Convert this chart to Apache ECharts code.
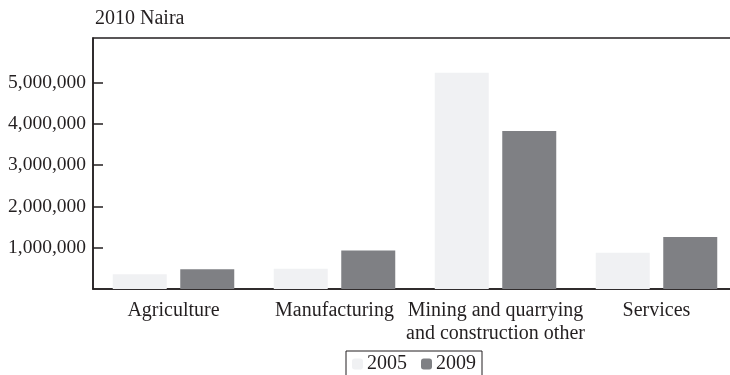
<!DOCTYPE html>
<html>
<head>
<meta charset="utf-8">
<script src="https://cdn.jsdelivr.net/npm/echarts@6/dist/echarts.min.js"></script>
<style>
  html, body { margin: 0; padding: 0; background: #fff; }
  #chart { width: 730px; height: 375px; }
</style>
</head>
<body>
<div id="chart"></div>
<script>
// Sector output, 2010 Naira
const categories = ['Agriculture', 'Manufacturing', 'Mining and quarrying\nand construction other', 'Services'];
const values2005 = [355000, 490000, 5240000, 880000];
const values2009 = [477000, 930000, 3830000, 1260000];
const yTicks = [1000000, 2000000, 3000000, 4000000, 5000000];

const serif = '"Liberation Serif", "DejaVu Serif", serif';
const ink = '#231f20';

const chart = echarts.init(document.getElementById('chart'), null, { renderer: 'canvas' });
chart.setOption({
  animation: false,
  backgroundColor: '#ffffff',
  textStyle: { fontFamily: serif, color: ink },
  title: {
    text: '2010 Naira',
    left: 90,
    top: 4,
    textStyle: { fontFamily: serif, fontSize: 20, fontWeight: 'normal', color: ink }
  },
  legend: {
    top: 351,
    left: 346,
    data: ['2005', '2009'],
    itemWidth: 11,
    itemHeight: 11,
    itemGap: 14,
    padding: [3, 6, 8, 6],
    borderColor: ink,
    borderWidth: 1,
    textStyle: { fontFamily: serif, fontSize: 20, color: ink, padding: [0, 0, 0, -1] }
  },
  grid: {
    left: 93,
    width: 644,
    top: 38,
    height: 251,
    outerBoundsMode: 'none',
    show: true,
    borderColor: ink,
    borderWidth: 1.5,
    containLabel: false
  },
  xAxis: {
    type: 'category',
    data: categories,
    axisLine: { show: true, lineStyle: { color: ink, width: 1.5 } },
    axisTick: { show: false },
    axisLabel: {
      interval: 0,
      margin: 10,
      fontFamily: serif,
      fontSize: 20,
      lineHeight: 23,
      color: ink
    }
  },
  yAxis: {
    type: 'value',
    min: 0,
    max: 6080000,
    interval: 1000000,
    splitLine: { show: false },
    axisLine: { show: true, lineStyle: { color: ink, width: 1.5 } },
    axisTick: {
      show: true,
      inside: true,
      length: 10,
      lineStyle: { color: ink, width: 1.5 },
      customValues: yTicks
    },
    axisLabel: {
      margin: 7,
      fontFamily: serif,
      fontSize: 19.5,
      color: ink,
      customValues: yTicks,
      formatter: v => v.toLocaleString('en-US')
    }
  },
  series: [
    {
      name: '2005',
      type: 'bar',
      data: values2005,
      barWidth: 54,
      barGap: '25%',
      itemStyle: { color: '#f0f1f3' }
    },
    {
      name: '2009',
      type: 'bar',
      data: values2009,
      barWidth: 54,
      barGap: '25%',
      itemStyle: { color: '#7f8084' }
    }
  ]
});
</script>
</body>
</html>
